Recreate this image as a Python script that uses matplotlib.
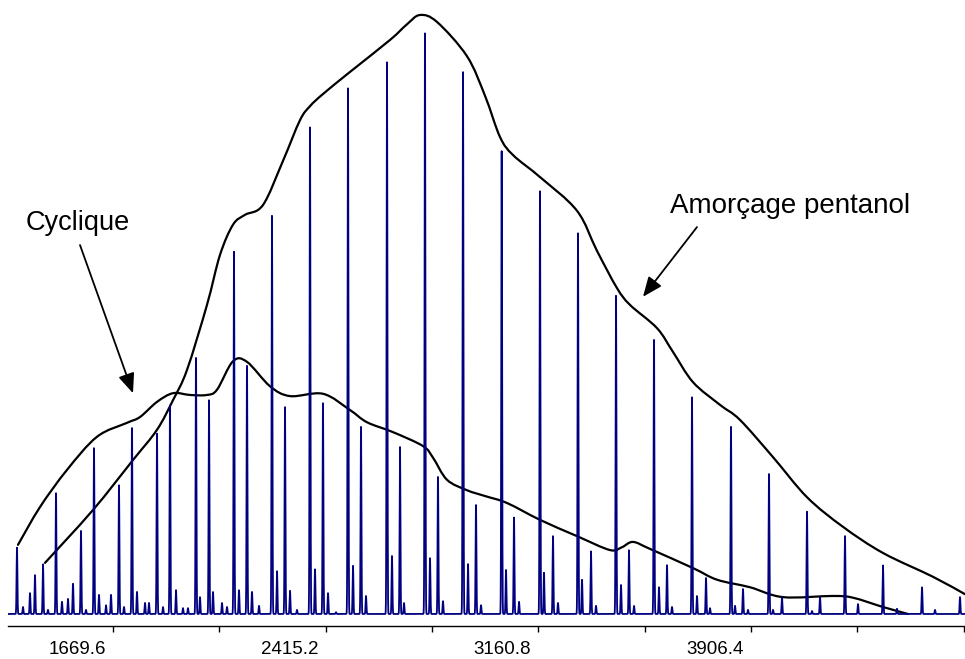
import numpy as np
import matplotlib
matplotlib.use("Agg")
import matplotlib.pyplot as plt
from matplotlib.path import Path
from matplotlib.patches import PathPatch
from matplotlib.transforms import ScaledTranslation

plt.rcParams['font.family'] = ['Liberation Sans', 'DejaVu Sans']

# ---------------- data (m/z, relative intensity %) ----------------
# Pentanol-initiated series (main peaks)
pent_mz = [1424.2, 1557.4, 1690.6, 1823.9, 1960.6, 2093.8, 2227.0, 2360.3, 2493.5,
           2630.2, 2763.4, 2896.7, 3032.3, 3166.6, 3299.8, 3433.1, 3566.3, 3699.5,
           3836.2, 3969.5, 4102.7, 4235.9, 4369.1, 4505.9, 4639.1]
pent_int = [8.6, 14.3, 22.2, 31.2, 44.1, 62.5, 68.7, 83.8, 90.7,
            95.2, 100.0, 93.5, 79.7, 72.8, 65.9, 54.9, 47.2, 37.5,
            32.2, 24.1, 17.7, 13.4, 8.4, 4.6, 2.9]

# Cyclic series
cyc_mz = [1333.0, 1469.8, 1603.0, 1736.2, 1869.4, 2006.2, 2139.4, 2272.6, 2405.8,
          2539.1, 2675.8, 2809.0, 2942.2, 3075.5, 3212.2, 3345.4, 3478.6, 3611.9,
          3748.6, 3878.3, 4015.0, 4148.3, 4281.5, 4418.2, 4551.4]
cyc_int = [11.4, 20.8, 28.7, 32.0, 36.1, 37.0, 42.7, 35.8, 36.3,
           32.2, 28.9, 23.6, 18.8, 16.7, 13.4, 10.8, 11.0, 8.4,
           6.2, 4.3, 2.9, 2.9, 1.7, 0.9, 0.7]

# Minor satellite peaks of the pentanol series
sat1_mz = [1441.7, 1574.9, 1708.2, 1844.9, 1974.6, 2111.3, 2244.6, 2377.8, 2511.0,
           2647.7, 2781.0, 2914.2, 3047.4, 3180.6, 3313.9, 3450.6, 3583.8, 3717.0,
           3850.3, 3983.5, 4120.2]
sat1_int = [0.7, 0.7, 1.2, 1.2, 2.9, 4.1, 7.4, 7.7, 8.3,
            10.0, 9.6, 8.6, 7.6, 7.1, 5.9, 5.0, 4.6, 3.1,
            1.4, 0.7, 0.5]

# Minor satellite peaks of the cyclic series
sat2_mz = [1354.1, 1490.8, 1620.5, 1753.7, 1890.5, 2020.2, 2156.9, 2290.1, 2423.4,
           2556.6, 2689.8, 2826.5, 2959.8, 3093.0, 3229.7, 3363.0, 3496.2, 3629.4,
           3762.6, 3895.8]
sat2_int = [1.2, 2.1, 3.3, 3.8, 4.1, 3.8, 3.8, 4.0, 3.6,
            3.1, 1.9, 2.2, 1.5, 2.1, 1.9, 1.4, 1.4, 1.2,
            1.0, 0.7]

# Other small peaks (low mass region)
oth_mz = [1378.6, 1396.1, 1511.8, 1529.4, 1645.1, 1662.6, 1781.8, 1795.8, 1915.0,
          1932.5, 2051.7, 2069.3, 2181.5, 2314.7, 2451.4]
oth_int = [3.6, 6.7, 2.6, 5.2, 1.5, 3.3, 1.9, 1.9, 1.0,
           1.0, 1.9, 1.2, 1.4, 0.7, 0.3]

# Hand-drawn envelopes
env_pent_mz = [1431.2, 1599.4, 1739.7, 1823.8, 1879.9, 1929.0, 1999.1, 2044.7, 2090.3,
               2132.3, 2195.5, 2265.6, 2325.2, 2360.2, 2405.8, 2500.5, 2640.7, 2700.3,
               2745.9, 2805.5, 2910.7, 2973.8, 3026.4, 3071.9, 3166.6, 3296.3, 3366.4,
               3436.5, 3482.1, 3576.8, 3632.9, 3703.0, 3797.6, 3867.8, 3983.5, 4102.7,
               4228.9, 4369.1, 4544.4, 4656.6]
env_pent_int = [8.8, 17.9, 26.5, 31.7, 36.8, 42.0, 53.2, 61.8, 67.0,
                68.7, 70.4, 78.0, 85.0, 87.4, 89.5, 93.3, 98.8, 101.5,
                103.1, 101.9, 96.0, 89.2, 82.1, 79.0, 75.2, 69.4, 62.5,
                56.1, 53.2, 49.2, 45.1, 39.9, 36.0, 33.4, 27.0, 20.1,
                15.0, 10.5, 6.4, 3.4]

env_cyc_mz = [1336.5, 1413.6, 1508.3, 1613.5, 1718.6, 1764.2, 1823.8, 1879.9, 1939.5,
              1999.1, 2034.2, 2090.3, 2139.3, 2220.0, 2290.1, 2405.8, 2500.5, 2560.1,
              2651.2, 2756.4, 2791.5, 2840.5, 2910.7, 2973.8, 3050.9, 3166.6, 3296.3,
              3412.0, 3454.1, 3492.6, 3552.2, 3703.0, 3787.1, 3902.8, 4018.5, 4193.8,
              4263.9, 4369.1, 4456.8]
env_cyc_int = [11.9, 18.4, 24.8, 30.5, 32.9, 33.9, 36.5, 38.0, 37.7,
               37.7, 38.6, 43.5, 43.4, 39.2, 37.5, 37.9, 35.1, 33.0,
               31.3, 28.9, 26.9, 23.1, 21.3, 20.3, 19.1, 16.2, 13.4,
               11.0, 11.5, 12.4, 11.2, 7.9, 5.9, 4.6, 2.9, 3.1,
               2.8, 1.2, 0.0]

tick_values = [1669.6, 2042.4, 2415.2, 2788.0, 3160.8, 3533.6, 3906.4, 4279.2, 4652.0]
label_values = [1669.6, 2415.2, 3160.8, 3906.4]
label_texts = ['1669.6', '2415.2', '3160.8', '3906.4']

# ---------------- figure ----------------
fig = plt.figure(figsize=(9.65, 6.59), dpi=100)
ax = fig.add_axes([8 / 965, 33 / 659, 957 / 965, 626 / 659])
ax.set_xlim(1301.5, 4656.6)
ax.set_ylim(-2.07, 105.68)

# spectrum profile built from the peak list (narrow Gaussian line shape)
mz = np.arange(1301.5, 4656.6, 0.35)
profile = np.zeros_like(mz)
sigma = 1.4
for centers, heights in [(pent_mz, pent_int), (cyc_mz, cyc_int), (sat1_mz, sat1_int),
                         (sat2_mz, sat2_int), (oth_mz, oth_int)]:
    for c, h in zip(centers, heights):
        profile += h * np.exp(-0.5 * ((mz - c) / sigma) ** 2)
ax.plot(mz, profile, color='#000080', lw=1.3, solid_joinstyle='round')


def smooth_path(xs, ys):
    pts = np.column_stack([xs, ys])
    n = len(pts)
    verts = [pts[0]]
    codes = [Path.MOVETO]
    for i in range(n - 1):
        p0 = pts[i - 1] if i > 0 else pts[i]
        p1 = pts[i]
        p2 = pts[i + 1]
        p3 = pts[i + 2] if i + 2 < n else pts[i + 1]
        c1 = p1 + (p2 - p0) / 6.0
        c2 = p2 - (p3 - p1) / 6.0
        verts += [c1, c2, p2]
        codes += [Path.CURVE4] * 3
    return Path(verts, codes)


for xs, ys in [(env_pent_mz, env_pent_int), (env_cyc_mz, env_cyc_int)]:
    ax.add_patch(PathPatch(smooth_path(xs, ys), fill=False, edgecolor='black',
                           lw=1.6, transform=ax.transData, capstyle='round'))

# annotations
ax.text(1362.0, 66.1, 'Cyclique', fontsize=19.5, ha='left', va='baseline', color='black')
ax.annotate('', xy=(1739.7, 38.0), xytext=(1553.9, 63.5),
            arrowprops=dict(arrowstyle='-|>,head_length=0.6,head_width=0.25',
                            mutation_scale=20, color='black', lw=1.3,
                            shrinkA=0, shrinkB=0))
ax.text(3622.4, 69.0, 'Amorçage pentanol', fontsize=20, ha='left', va='baseline',
        color='black')
ax.annotate('', xy=(3527.7, 54.6), xytext=(3717.0, 66.6),
            arrowprops=dict(arrowstyle='-|>,head_length=0.6,head_width=0.25',
                            mutation_scale=20, color='black', lw=1.3,
                            shrinkA=0, shrinkB=0))

# axes styling
for s in ['left', 'right', 'top']:
    ax.spines[s].set_visible(False)
ax.spines['bottom'].set_linewidth(1.0)
ax.set_yticks([])
ax.set_xticks(label_values)
ax.set_xticklabels(label_texts)
ax.set_xticks([v for v in tick_values if v not in label_values], minor=True)
ax.tick_params(axis='x', which='both', direction='out', length=4, width=1.0,
               labelsize=13.5, pad=7)
offset = ScaledTranslation(-0.36, 0, fig.dpi_scale_trans)
for lab in ax.get_xticklabels():
    lab.set_transform(lab.get_transform() + offset)

fig.savefig('out.png', dpi=100)
